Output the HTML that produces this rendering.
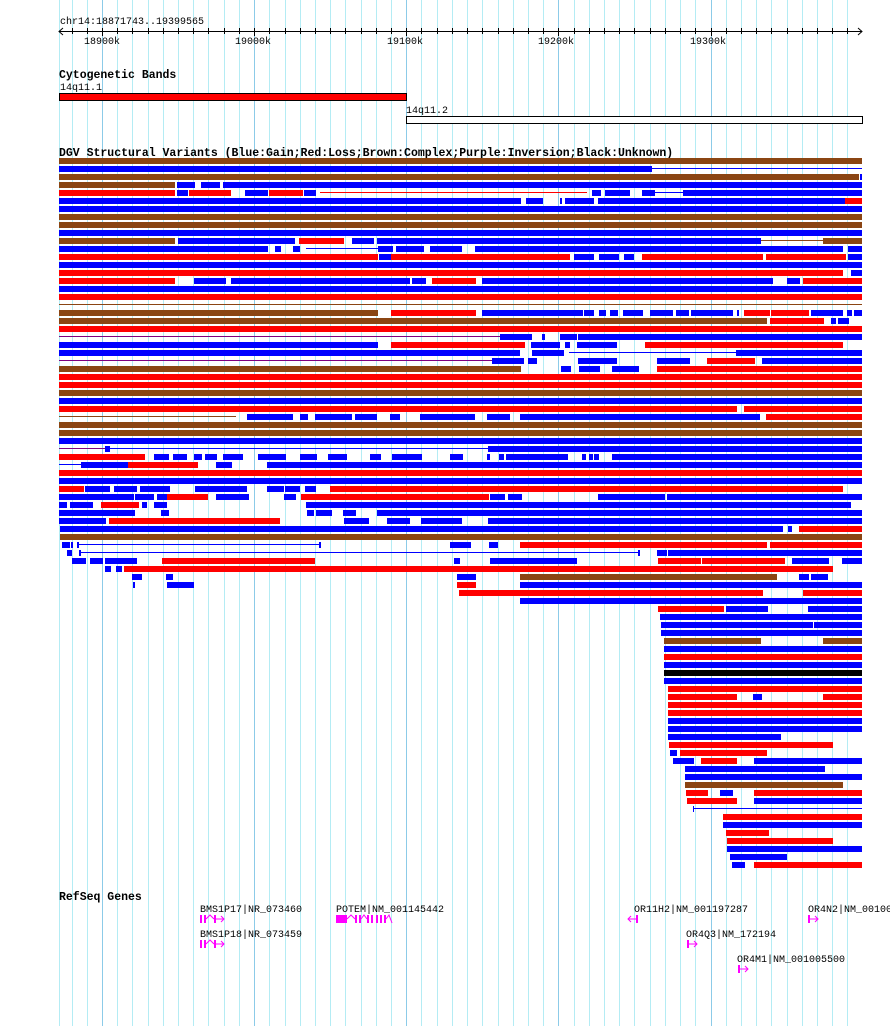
<!DOCTYPE html>
<html><head><meta charset="utf-8"><style>
html,body{margin:0;padding:0;background:#fff;width:890px;height:1026px;overflow:hidden}
svg{display:block}
text{font-family:"Liberation Mono",monospace;font-size:10px;fill:#000}
.t{font-weight:bold;font-size:11.5px}
</style></head><body>
<svg id="s" width="890" height="1026" xmlns="http://www.w3.org/2000/svg">
<g id="grid"></g>
<text x="60" y="24">chr14:18871743..19399565</text>
<line x1="59" y1="31.5" x2="862" y2="31.5" stroke="#000"/>
<path d="M63,28 L59,31.5 L63,35 M858,28 L862,31.5 L858,35" stroke="#000" fill="none"/>
<g id="ticks"></g>
<text x="84" y="44">18900k</text>
<text x="235" y="44">19000k</text>
<text x="387" y="44">19100k</text>
<text x="538" y="44">19200k</text>
<text x="690" y="44">19300k</text>
<text class="t" x="59" y="78">Cytogenetic Bands</text>
<text x="60" y="90">14q11.1</text>
<rect x="59.5" y="93.5" width="347" height="7" fill="#ff0000" stroke="#000"/>
<text x="406" y="113">14q11.2</text>
<rect x="406.5" y="116.5" width="456" height="7" fill="#fff" stroke="#000"/>
<text class="t" x="59" y="156">DGV Structural Variants (Blue:Gain;Red:Loss;Brown:Complex;Purple:Inversion;Black:Unknown)</text>
<g id="rows"></g>
<text class="t" x="59" y="900">RefSeq Genes</text>
<text x="200" y="912">BMS1P17|NR_073460</text>
<text x="200" y="937">BMS1P18|NR_073459</text>
<text x="336" y="912">POTEM|NM_001145442</text>
<text x="634" y="912">OR11H2|NM_001197287</text>
<text x="808" y="912">OR4N2|NM_001004</text>
<text x="686" y="937">OR4Q3|NM_172194</text>
<text x="737" y="962">OR4M1|NM_001005500</text>
<g fill="#ff00ff" stroke="#ff00ff">
<rect x="200" y="915" width="2" height="8" stroke="none"/><rect x="204" y="915" width="2" height="8" stroke="none"/>
<path d="M206,919 L210,915 L214,919 M214,919 L224,919 M221,916 L224,919 L221,922" fill="none"/>
<rect x="214" y="915" width="2" height="8" stroke="none"/>
<rect x="200" y="940" width="2" height="8" stroke="none"/><rect x="204" y="940" width="2" height="8" stroke="none"/>
<path d="M206,944 L210,940 L214,944 M214,944 L224,944 M221,941 L224,944 L221,947" fill="none"/>
<rect x="214" y="940" width="2" height="8" stroke="none"/>
<rect x="336" y="915" width="11" height="8" stroke="none"/>
<path d="M347,919 L351,915 L355,919" fill="none"/>
<rect x="355" y="915" width="2" height="8" stroke="none"/><rect x="359" y="915" width="2" height="8" stroke="none"/>
<path d="M361,919 L364,915 L367,919" fill="none"/>
<rect x="367" y="915" width="2" height="8" stroke="none"/><rect x="371" y="915" width="2" height="8" stroke="none"/>
<rect x="376" y="915" width="2" height="8" stroke="none"/><rect x="380" y="915" width="2" height="8" stroke="none"/>
<rect x="384" y="915" width="2" height="8" stroke="none"/>
<path d="M386,919 L389,915 L392,923" fill="none"/>
<rect x="636" y="915" width="2" height="8" stroke="none"/>
<path d="M636,919 L628,919 M631,916 L628,919 L631,922" fill="none"/>
<rect x="808" y="915" width="2" height="8" stroke="none"/>
<path d="M810,919 L818,919 M815,916 L818,919 L815,922" fill="none"/>
<rect x="687" y="940" width="2" height="8" stroke="none"/>
<path d="M689,944 L697,944 M694,941 L697,944 L694,947" fill="none"/>
<rect x="738" y="965" width="2" height="8" stroke="none"/>
<path d="M740,969 L748,969 M745,966 L748,969 L745,972" fill="none"/>
</g>
</svg>
<script>
(function(){
var NS="http://www.w3.org/2000/svg";
function el(p,n,a){var e=document.createElementNS(NS,n);for(var k in a)e.setAttribute(k,a[k]);p.appendChild(e);return e;}
var g=document.getElementById('grid'),tk=document.getElementById('ticks');
var sc=803/527822;
for(var p=18880000;p<=19390000;p+=10000){
 var x=Math.round(59+(p-18871743)*sc)+0.5;var maj=(p%100000===0);
 el(g,'line',{x1:x,y1:0,x2:x,y2:1026,stroke:maj?'#8ccbe8':'#b4ecf4','stroke-width':1});
 el(tk,'line',{x1:x,y1:28,x2:x,y2:maj?36:34,stroke:'#000'});
}
el(g,'line',{x1:59.5,y1:0,x2:59.5,y2:1026,stroke:'#b4ecf4'});
var C={b:'#0000ff',r:'#ff0000',n:'#8b4513',k:'#000000',B:'#0000ff',R:'#ff0000',N:'#8b4513',P:'#800080'};
var rows=[
"n59-862","b59-652 B652-862","n59-859 b860-862",
"n59-175 b177-195 b201-220 b223-862",
"r59-175 b177-188 r189-231 b245-268 r269-303 b304-316 R320-587 b592-601 b605-630 b642-655 B655-683 b683-862",
"b59-521 b526-543 b560-562 b565-594 b598-845 r845-862",
"b59-862","n59-862","n59-862","b59-862",
"n59-175 b178-295 r299-344 b352-374 b377-761 N761-823 n823-862",
"b59-268 b275-281 b293-300 B306-378 b378-393 b396-424 b430-462 b475-843 b848-862",
"r59-378 b379-391 r391-570 b574-594 b599-619 b624-634 r642-763 r766-846 b848-862",
"b59-862","r59-843 b851-862",
"r59-175 b194-226 b231-410 b412-426 r432-476 b482-773 b787-800 r803-862",
"b59-862","r59-862","N59-862",
"n59-378 r391-476 b482-583 b584-594 b599-606 b610-618 b623-643 b650-673 b676-689 b691-733 b737-739 r744-770 r771-809 b811-843 b847-852 b854-862",
"n59-767 r770-824 b831-836 b838-849",
"r59-862",
"P59-500 b500-532 b542-545 b560-577 b578-862",
"b59-378 r391-525 b531-560 b565-570 b577-617 r645-843",
"b59-520 b532-564 B569-736 b736-862",
"P59-492 b492-524 b528-537 b578-617 b657-690 r707-755 b762-862",
"n59-521 b561-571 b579-600 b612-639 r657-862",
"r59-862","r59-862","n59-862","b59-862",
"r59-737 r744-862",
"N59-236 b247-293 b300-308 b315-352 b355-377 b390-400 b420-475 b487-510 b520-760 r766-862",
"n59-862","n59-862","b59-862",
"P59-105 b105-110 B110-488 b488-862",
"r59-145 b154-169 b173-187 b194-202 b205-217 b223-243 b258-286 b300-317 b328-347 b370-381 b392-422 b450-463 b487-490 b499-504 b506-568 b582-586 b589-593 b594-599 b612-862",
"B59-81 b81-117 b117-128 b130-138 r128-198 b216-232 b267-862",
"r59-862","b59-862",
"r59-84 b85-110 b114-137 b140-170 b195-247 b267-284 b285-300 b305-316 r330-843",
"b59-134 b135-154 b157-167 r167-208 b216-249 b284-296 r301-489 b490-505 b508-522 b598-665 b667-862",
"b59-67 b70-93 r101-139 b142-147 b154-167 b306-851",
"b59-135 b161-169 b307-314 b316-332 b343-356 b377-862",
"b59-106 r109-280 b344-369 b387-410 b421-462 b488-862",
"b60-783 b788-792 r799-862",
"n60-862",
"b62-70 b71-73 b77-79 B79-320 b319-321 b450-471 b489-498 r520-767 r770-862",
"b67-72 b79-81 B81-639 b638-640 b657-667 b668-862",
"b72-86 b90-103 b105-137 r162-315 b454-460 b490-577 r658-701 r702-785 b792-829 b842-862",
"b105-111 b116-122 r124-833",
"b132-142 b166-173 b457-476 n520-777 b799-809 b811-828",
"b133-135 b167-194 r457-476 b520-862",
"r459-763 r803-862",
"b520-862",
"r658-724 b726-768 b808-862",
"b660-862","b661-813 b814-862","b661-862",
"n664-761 n823-862","b664-862","r664-862","b664-862","k664-862","b664-862",
"r668-862","r668-737 b753-762 r823-862","r668-862","r668-862","b668-862","b668-862",
"b668-781","r669-833","b670-677 r680-767","b673-694 r701-737 b754-862",
"b685-825","b685-862","n685-843","r686-708 b720-733 r754-862","r687-737 b754-862",
"b693-694 B694-862","r723-862","b723-862","r726-769","r727-833","b727-862","b730-787","b732-745 r754-862"
];
var R=document.getElementById('rows');
rows.forEach(function(s,i){
 var y=158+8*i;
 s.split(' ').forEach(function(seg){
  var c=seg[0],a=seg.slice(1).split('-'),x1=+a[0],x2=+a[1];
  if('BRNP'.indexOf(c)>=0){
   el(R,'rect',{x:x1,y:y+2,width:x2-x1,height:1,fill:C[c]});
  } else {
   el(R,'rect',{x:x1,y:y,width:Math.max(1,x2-x1),height:6,fill:C[c]});
  }
 });
});
})();
</script>
</body></html>
